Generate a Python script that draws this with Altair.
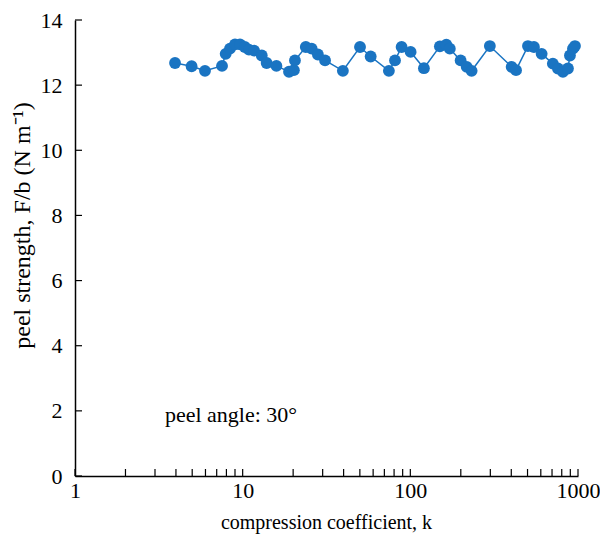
import altair as alt
import pandas as pd

k_values = [3.95, 4.96, 5.96, 7.53, 7.92, 8.40, 9.0, 9.64, 10.3, 10.9, 11.7, 13.0, 13.9, 15.9,
            18.9, 20.2, 20.5, 23.8, 25.8, 28.1, 31.0, 39.6, 50.1, 58.0, 74.5, 81.0, 88.7, 100.4,
            120.5, 150, 164, 172, 199.5, 217, 232, 298, 402, 427, 503, 546, 607, 708, 759, 813,
            871, 895, 933, 959]
peel_values = [12.68, 12.58, 12.44, 12.59, 12.96, 13.12, 13.25, 13.25, 13.17, 13.09, 13.06, 12.91,
               12.68, 12.59, 12.41, 12.46, 12.76, 13.17, 13.12, 12.94, 12.76, 12.44, 13.17, 12.88,
               12.44, 12.76, 13.17, 13.02, 12.52, 13.19, 13.24, 13.12, 12.76, 12.56, 12.44, 13.20,
               12.56, 12.46, 13.20, 13.17, 12.96, 12.66, 12.51, 12.41, 12.51, 12.91, 13.12, 13.20]

x_label_values = [1, 10, 100, 1000]
x_tick_values = [1, 2, 3, 4, 5, 6, 7, 8, 9, 10, 20, 30, 40, 50, 60, 70, 80, 90, 100,
                 200, 300, 400, 500, 600, 700, 800, 900, 1000]
y_tick_values = [0, 2, 4, 6, 8, 10, 12, 14]

annotation = "peel angle: 30°"
x_title = "compression coefficient, k"
y_title = "peel strength, F/b (N m⁻¹)"

FONT = "Liberation Serif"
BLUE = "#1a74c2"

df = pd.DataFrame({"k": k_values, "F": peel_values})
xt = pd.DataFrame({"k": x_tick_values})
yt = pd.DataFrame({"F": y_tick_values})
ann = pd.DataFrame({"k": [3.44], "F": [1.86], "t": [annotation]})

xscale = alt.Scale(type="log", domain=[1, 1000], nice=False)
yscale = alt.Scale(domain=[0, 14], nice=False, zero=True)

x_axis = alt.Axis(values=x_label_values, format="d", ticks=False, grid=False, title=x_title,
                  labelFontSize=22, titleFontSize=20, labelPadding=4, labelFlush=False,
                  titleX=251, titleY=46, titleBaseline="middle",
                  labelFont=FONT, titleFont=FONT, titleFontWeight="normal",
                  domainColor="black", domainWidth=1.5, labelColor="black", titleColor="black")
y_axis = alt.Axis(values=y_tick_values, ticks=False, grid=False, title=y_title,
                  labelFontSize=22, titleFontSize=24, labelPadding=13, labelFlush=False,
                  titleX=-53, titleY=205, titleBaseline="middle",
                  labelFont=FONT, titleFont=FONT, titleFontWeight="normal",
                  domainColor="black", domainWidth=1.5, labelColor="black", titleColor="black")

base = alt.Chart(df).encode(
    x=alt.X("k:Q", scale=xscale, axis=x_axis),
    y=alt.Y("F:Q", scale=yscale, axis=y_axis),
)
line = base.mark_line(color=BLUE, strokeWidth=1.5)
pts = base.mark_circle(color=BLUE, size=140, opacity=1)

xticks = alt.Chart(xt).mark_rule(color="black", strokeWidth=1.2).encode(
    x=alt.X("k:Q", scale=xscale), y=alt.value(456), y2=alt.value(449))
yticks = alt.Chart(yt).mark_rule(color="black", strokeWidth=1.2).encode(
    y=alt.Y("F:Q", scale=yscale), x=alt.value(0), x2=alt.value(7))

text = alt.Chart(ann).mark_text(font=FONT, fontSize=22, align="left", baseline="middle",
                                color="black").encode(
    x=alt.X("k:Q", scale=xscale), y=alt.Y("F:Q", scale=yscale), text="t:N")

chart = alt.layer(line, pts, xticks, yticks, text).properties(
    width=503, height=456,
    autosize=alt.AutoSizeParams(type="none"),
    padding={"left": 67, "top": 12, "right": 22, "bottom": 64},
).configure_view(stroke=None)

chart.save("out.html", embed_options={"renderer": "svg", "actions": False})
